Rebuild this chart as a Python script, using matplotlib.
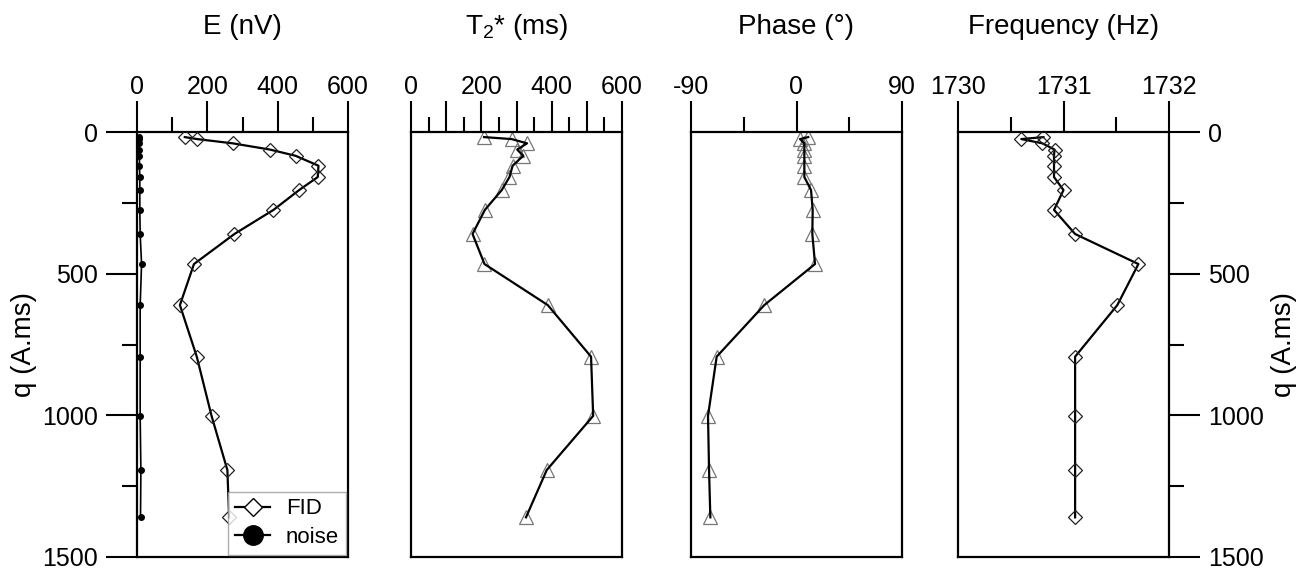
import numpy as np
import matplotlib
matplotlib.use('Agg')
import matplotlib.pyplot as plt
from matplotlib.lines import Line2D
from matplotlib.ticker import MultipleLocator

plt.rcParams['font.family'] = ['Liberation Sans', 'DejaVu Sans']
plt.rcParams['mathtext.fontset'] = 'custom'
plt.rcParams['mathtext.rm'] = 'Liberation Sans'
plt.rcParams['mathtext.it'] = 'Liberation Sans:italic'
plt.rcParams['axes.unicode_minus'] = False

# pulse moment (A.ms)
q = [18, 25, 40, 62, 84, 119, 159, 205, 275, 360, 466, 611, 793, 1002, 1193, 1360]
# initial amplitude of the FID and noise level (nV)
E_fid = [136, 171, 272, 378, 451, 516, 514, 461, 388, 277, 162, 122, 170, 212, 257, 262]
E_noise = [6, 6, 6, 7, 7, 7, 8, 8, 8, 9, 13, 9, 9, 9, 11, 10]
# relaxation time (ms)
T2 = [208, 286, 330, 302, 319, 289, 280, 258, 210, 175, 209, 389, 512, 518, 386, 327]
# phase (deg)
phase = [10, 3, 6.7, 6.7, 6.7, 6.7, 6.7, 12.4, 13.8, 13.5, 15.8, -27.5, -68.1, -75.5, -74.6, -73.5]
# frequency (Hz)
freq = [1730.81, 1730.60, 1730.80, 1730.915, 1730.91, 1730.91, 1730.91, 1731.00,
        1730.91, 1731.11, 1731.71, 1731.51, 1731.11, 1731.11, 1731.11, 1731.11]

titles = ['E (nV)', r'T$_\mathregular{2}$* (ms)', 'Phase (°)', 'Frequency (Hz)']

W, H = 1301, 570
fig = plt.figure(figsize=(W / 100, H / 100), dpi=100)

lefts = [137, 411, 691, 958]
top, bottom, width = 132, 557, 211
axs = [fig.add_axes([l / W, 1 - bottom / H, width / W, (bottom - top) / H]) for l in lefts]

line_kw = dict(color='black', lw=1.6, zorder=2)
diam_kw = dict(marker='D', ms=7, mfc='none', mec='#222222', mew=0.9, ls='none', zorder=3)
tri_kw = dict(marker='^', ms=9.5, mfc='none', mec='#777777', mew=0.9, ls='none', zorder=1)

def style_axis(ax, xlim, major, minor, labels=None):
    ax.set_ylim(1500, 0)
    ax.set_xlim(*xlim)
    ax.xaxis.tick_top()
    ax.xaxis.set_major_locator(MultipleLocator(major))
    ax.xaxis.set_minor_locator(MultipleLocator(minor))
    if labels is not None:
        ticks = ax.get_xticks()
        ax.set_xticks(ticks)
        ax.set_xticklabels([labels(t) for t in ticks])
    ax.tick_params(axis='x', which='major', direction='out', length=22, width=1.5,
                   labelsize=18, pad=1.5)
    ax.tick_params(axis='x', which='minor', direction='out', length=11, width=1.5)
    ax.set_xlim(*xlim)
    for s in ax.spines.values():
        s.set_linewidth(1.6)

def style_q_axis(ax):
    ax.yaxis.set_major_locator(MultipleLocator(500))
    ax.yaxis.set_minor_locator(MultipleLocator(250))
    ax.tick_params(axis='y', which='major', direction='out', length=22, width=1.5,
                   labelsize=18, pad=6)
    ax.tick_params(axis='y', which='minor', direction='out', length=11, width=1.5)

# E
ax = axs[0]
ax.plot(E_noise, q, color='black', lw=1.2, zorder=2)
ax.plot(E_noise, q, 'o', color='black', ms=4, zorder=3)
ax.plot(E_fid, q, **line_kw)
ax.plot(E_fid, q, **diam_kw)
style_axis(ax, (0, 600), 200, 100)
style_q_axis(ax)
ax.set_ylabel('q (A.ms)', fontsize=20, labelpad=4)
handles = [Line2D([], [], color='black', lw=1.6, marker='D', ms=9, mfc='white', mec='black', mew=1.0),
           Line2D([], [], color='black', lw=1.6, marker='o', ms=14, mfc='black', mec='black')]
leg = ax.legend(handles, ['FID', 'noise'], loc='lower right', fontsize=16, fancybox=False,
                edgecolor='#999999', handlelength=1.6, borderaxespad=0.1, borderpad=0.3,
                labelspacing=0.35, handletextpad=0.7)
leg.get_frame().set_linewidth(1.0)

# T2*
ax = axs[1]
ax.plot(T2, q, **line_kw)
ax.plot(T2, q, **tri_kw)
style_axis(ax, (0, 600), 100, 50, labels=lambda t: '%d' % t if t % 200 == 0 else '')
ax.set_yticks([])

# phase
ax = axs[2]
ax.plot(phase, q, **line_kw)
ax.plot(phase, q, **tri_kw)
style_axis(ax, (-90, 90), 90, 45)
ax.set_yticks([])

# frequency
ax = axs[3]
ax.plot(freq, q, **line_kw)
ax.plot(freq, q, **diam_kw)
style_axis(ax, (1730, 1732), 1, 0.5)
ax.xaxis.set_major_formatter(plt.FuncFormatter(lambda t, p: '%d' % round(t)))
ax.yaxis.tick_right()
ax.yaxis.set_label_position('right')
style_q_axis(ax)
ax.set_ylabel('q (A.ms)', fontsize=20, labelpad=5)

# panel headers sit above the tick labels
for ax, t in zip(axs, titles):
    x0, x1 = ax.get_position().x0, ax.get_position().x1
    fig.text((x0 + x1) / 2, 1 - 27 / H, t, fontsize=20, ha='center', va='center')

fig.savefig('out.png', dpi=100)
